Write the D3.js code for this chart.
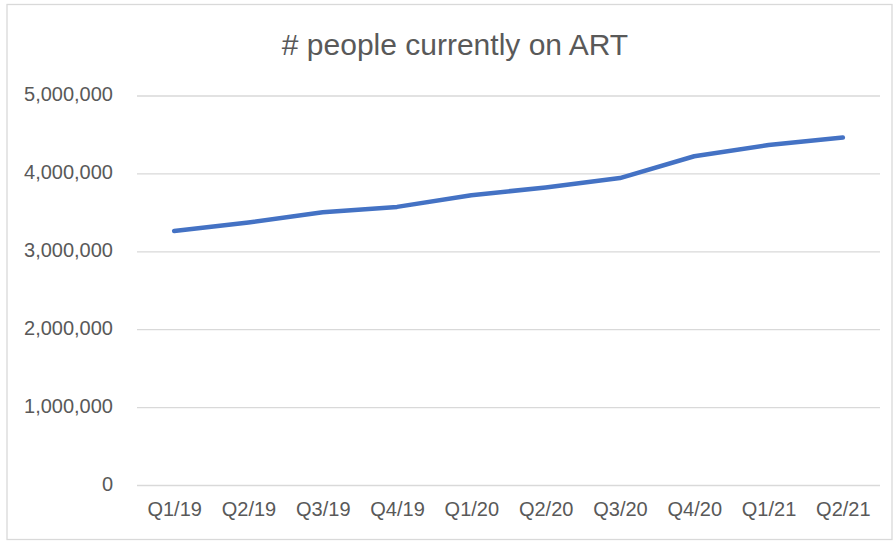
<!DOCTYPE html>
<html>
<head>
<meta charset="utf-8">
<script src="https://cdn.jsdelivr.net/npm/d3@7"></script>
<style>
  body { margin: 0; background: #fff; }
  text { font-family: "Liberation Sans", Arial, sans-serif; fill: #595959; }
</style>
</head>
<body>
<div class="chart"></div>
<script>
var svgWidth = 895;
var svgHeight = 541;

// chart data
var quarters = ["Q1/19", "Q2/19", "Q3/19", "Q4/19", "Q1/20", "Q2/20", "Q3/20", "Q4/20", "Q1/21", "Q2/21"];
var onART = [3260000, 3370000, 3500000, 3570000, 3720000, 3820000, 3940000, 4220000, 4365000, 4460000];
var yTicks = [0, 1000000, 2000000, 3000000, 4000000, 5000000];
var chartTitle = "# people currently on ART";

var margin = { top: 95.5, right: 15, bottom: 56, left: 137 };
var width = svgWidth - margin.left - margin.right;
var height = svgHeight - margin.top - margin.bottom;

var svg = d3.select(".chart")
  .append("svg")
  .attr("width", svgWidth)
  .attr("height", svgHeight);

// outer frame
svg.append("rect")
  .attr("x", 7)
  .attr("y", 4.5)
  .attr("width", 885)
  .attr("height", 535)
  .attr("fill", "none")
  .attr("stroke", "#d9d9d9")
  .attr("stroke-width", 1.3);

svg.append("text")
  .attr("x", 455)
  .attr("y", 55)
  .attr("text-anchor", "middle")
  .style("font-size", "30px")
  .text(chartTitle);

var chartGroup = svg.append("g")
  .attr("transform", `translate(${margin.left}, ${margin.top})`);

var xScale = d3.scalePoint()
  .domain(quarters)
  .range([0, width])
  .padding(0.5);

var yScale = d3.scaleLinear()
  .domain([0, 5000000])
  .range([height, 0]);

// gridlines + y labels
var leftAxis = d3.axisLeft(yScale)
  .tickValues(yTicks)
  .tickSize(-width)
  .tickPadding(24)
  .tickFormat(d3.format(","));

chartGroup.append("g")
  .call(leftAxis)
  .call(g => g.select(".domain").remove())
  .call(g => g.selectAll(".tick line").attr("stroke", "#d9d9d9").attr("stroke-width", 1.3))
  .call(g => g.selectAll(".tick text")
    .attr("fill", "#595959")
    .attr("dy", "0.25em")
    .style("font-size", "20px")
    .style("font-family", "'Liberation Sans', Arial, sans-serif"));

// x labels
var bottomAxis = d3.axisBottom(xScale)
  .tickSize(0)
  .tickPadding(17);

chartGroup.append("g")
  .attr("transform", `translate(0, ${height})`)
  .call(bottomAxis)
  .call(g => g.select(".domain").remove())
  .call(g => g.selectAll(".tick text")
    .attr("fill", "#595959")
    .style("font-size", "20px")
    .style("font-family", "'Liberation Sans', Arial, sans-serif"));

var line = d3.line()
  .x((d, i) => xScale(quarters[i]))
  .y(d => yScale(d));

chartGroup.append("path")
  .datum(onART)
  .attr("d", line)
  .attr("fill", "none")
  .attr("stroke", "#4472c4")
  .attr("stroke-width", 4.5)
  .attr("stroke-linejoin", "round")
  .attr("stroke-linecap", "round");
</script>
</body>
</html>
